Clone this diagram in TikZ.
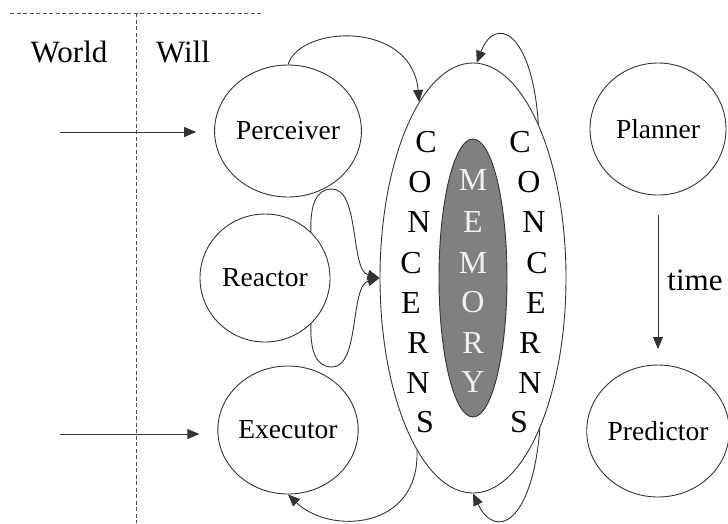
\documentclass[tikz,border=0pt]{standalone}
\usepackage{fontspec}
\setmainfont{Liberation Serif}
\usetikzlibrary{shapes.geometric,arrows.meta}
\begin{document}
\begin{tikzpicture}[x=1pt,y=-1pt,
  line width=0.9pt,
  circ/.style={draw=black!80, ellipse, minimum width=134pt, minimum height=132pt, inner sep=0pt, font=\fontsize{27.5}{30}\selectfont},
  lab/.style={font=\fontsize{31}{34}\selectfont, inner sep=0pt},
  letter/.style={font=\fontsize{32}{34}\selectfont, inner sep=0pt},
  conn/.style={draw=black!80, -{Triangle[length=12pt,width=10pt]}},
  divider/.style={draw=black!70, line width=0.8pt, dash pattern=on 4pt off 2.5pt},
  ]
\useasboundingbox (0,0) rectangle (728,523);

% dividers
\coordinate (h1) at (10,13);
\coordinate (h2) at (263,13);
\coordinate (v1) at (136,13);
\coordinate (v2) at (136,523);
\draw[divider] (h1) -- (h2);
\draw[divider] (v1) -- (v2);

\node[lab] (world) at (69,52) {World};
\node[lab] (will) at (183,52) {Will};

% nodes
\node[circ] (perc) at (288,131) {Perceiver};
\node[circ, minimum width=130pt, minimum height=128pt] (reac) at (265,278) {Reactor};
\node[circ, minimum height=128pt] (exec) at (288,430) {Executor};
\node[circ, minimum width=136pt] (plan) at (658,129) {Planner};
\node[circ, minimum width=136pt] (pred) at (658,431) {Predictor};

\node[draw=black!80, ellipse, minimum width=186pt, minimum height=430pt, inner sep=0pt] (conc) at (473,278) {};
\node[draw=black!80, fill=black!50, ellipse, minimum width=68pt, minimum height=278pt, inner sep=0pt] (mem) at (473,278) {};

% CONCERNS left
\foreach \l/\x/\y [count=\i] in {C/426/142, O/420/182, N/419/222, C/411/263, E/411/303, R/418/343, N/418/383, S/425/422}
  \node[letter] (cl\i) at (\x,\y) {\l};
% CONCERNS right
\foreach \l/\x/\y [count=\i] in {C/520/142, O/529/182, N/534/222, C/537/263, E/536/303, R/530/343, N/530/383, S/519/422}
  \node[letter] (cr\i) at (\x,\y) {\l};
% MEMORY
\foreach \l/\y [count=\i] in {M/180, E/222, M/263, O/302, R/343, Y/382}
  \node[letter, text=white!94!black] (m\i) at (473,\y) {\l};

% world arrows
\coordinate (w1) at (60,132);
\coordinate (w2) at (60,434);
\draw[conn, shorten >=18pt] (w1) -- (w1 -| perc.west);
\draw[conn, shorten >=18pt] (w2) -- (w2 -| exec.west);

% perceiver -> concerns
\draw[conn] (perc.north) .. controls (300,25) and (412,20) .. (conc.107);
% top self loop
\draw[conn] (conc.67) .. controls (532,30) and (495,15) .. (conc.89);
% reactor loops
\draw[conn] (reac.45) .. controls (310,205) and (316,189) .. (332,189)
  .. controls (360,189) and (350,270) .. (conc.west);
\draw[conn] (reac.-45) .. controls (310,351) and (316,367) .. (332,367)
  .. controls (360,367) and (350,286) .. (conc.west);
% concerns -> executor
\draw[conn] (conc.-108) .. controls (420,530) and (330,535) .. (exec.south);
% bottom self loop
\draw[conn] (conc.-66) .. controls (532,525) and (495,540) .. (conc.-90);

% time arrow
\coordinate (t1) at (658,215);
\coordinate (t2) at (658,349);
\draw[conn] (t1) -- (t2);
\node[lab, anchor=west] (time) at (667,280) {time};
\end{tikzpicture}
\end{document}
